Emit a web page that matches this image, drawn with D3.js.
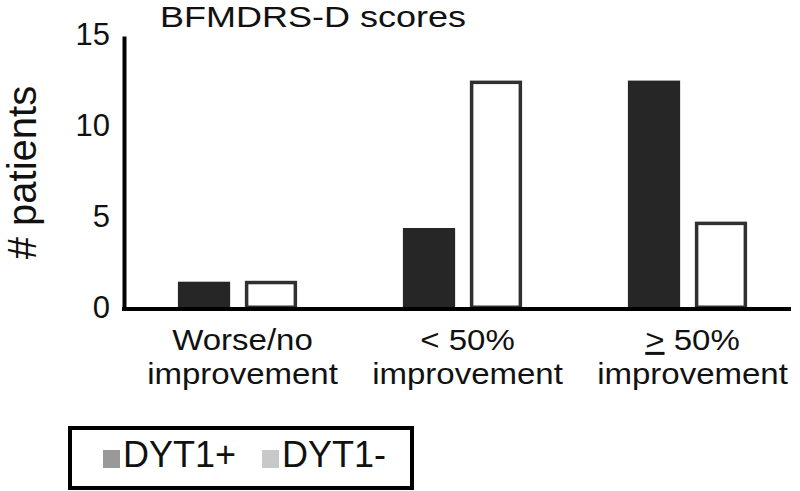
<!DOCTYPE html>
<html>
<head>
<meta charset="utf-8">
<script src="https://cdn.jsdelivr.net/npm/d3@7"></script>
<style>
  body { margin: 0; background: #fff; }
  text { font-family: "Liberation Sans", Arial, sans-serif; fill: #111; }
</style>
</head>
<body>
<script>
var categories = ["Worse/no improvement", "< 50% improvement", ">= 50% improvement"];
var labelLines = [["Worse/no", "improvement"], ["< 50%", "improvement"], [">= 50%", "improvement"]];
var seriesNames = ["DYT1+", "DYT1-"];
var dyt1Pos = [1.5, 4.45, 12.55];
var dyt1Neg = [1.55, 12.55, 4.8];
var yTicks = [0, 5, 10, 15];

function init(){
    var w = 800;
    var h = 491;
    var axisY = 309;
    var axisX = 124;
    var sw = 3.5;

    var svg = d3.select("body")
                .append("svg")
                .attr("width", w)
                .attr("height", h);

    var x0 = d3.scaleBand()
                .domain(categories)
                .range([125, 800])
                .padding(0);

    var x1 = d3.scaleBand()
                .domain(seriesNames)
                .range([0, x0.bandwidth()])
                .paddingInner(0.22)
                .paddingOuter(0.79);

    var yScale = d3.scaleLinear()
                .domain([0, 15])
                .range([axisY, 36]);

    var rows = categories.map(function(c, i) {
        return {cat: c, vals: [dyt1Pos[i], dyt1Neg[i]]};
    });

    // bars
    var groups = svg.selectAll("g.grp")
        .data(rows)
        .enter()
        .append("g")
        .attr("class", "grp")
        .attr("transform", function(d) {
            return "translate(" + x0(d.cat) + ",0)";
        });

    groups.append("rect")
        .attr("x", x1(seriesNames[0]))
        .attr("y", function(d) { return yScale(d.vals[0]); })
        .attr("width", x1.bandwidth())
        .attr("height", function(d) { return axisY - yScale(d.vals[0]); })
        .attr("fill", "#262626");

    groups.append("rect")
        .attr("x", x1(seriesNames[1]) + sw / 2)
        .attr("y", function(d) { return yScale(d.vals[1]) + sw / 2; })
        .attr("width", x1.bandwidth() - sw)
        .attr("height", function(d) { return axisY - yScale(d.vals[1]) - sw; })
        .attr("fill", "#fff")
        .attr("stroke", "#303030")
        .attr("stroke-width", sw);

    // y axis
    var yAxis = d3.axisLeft(yScale)
                .tickValues(yTicks)
                .tickSize(0)
                .tickSizeOuter(0)
                .tickPadding(14);

    var ya = svg.append("g")
        .attr("transform", "translate(" + axisX + ",0)")
        .call(yAxis);
    ya.select(".domain")
        .attr("stroke", "#000")
        .attr("stroke-width", 4);
    ya.selectAll("text")
        .attr("font-size", 31)
        .attr("font-family", "Liberation Sans, Arial, sans-serif")
        .attr("fill", "#111")
        .attr("dy", "0.26em");

    // x axis line
    svg.append("line")
        .attr("x1", axisX - 2)
        .attr("x2", 791)
        .attr("y1", axisY)
        .attr("y2", axisY)
        .attr("stroke", "#000")
        .attr("stroke-width", 4);

    // category labels, two lines each, glyphs slightly widened like the original
    var labels = svg.selectAll("g.cat")
        .data(labelLines)
        .enter()
        .append("g")
        .attr("class", "cat")
        .attr("transform", function(d, i) {
            return "translate(" + (x0(categories[i]) + x0.bandwidth() / 2 + 5) + ",350) scale(1.1,1)";
        });

    labels.each(function(d) {
        var g = d3.select(this);
        var first = g.append("text")
            .attr("text-anchor", "middle")
            .attr("font-size", 30)
            .attr("y", 0);
        if (d[0].indexOf(">=") === 0) {
            // underlined ">" stands for >=
            first.append("tspan")
                .attr("text-decoration", "underline")
                .text(">");
            first.append("tspan").text(d[0].slice(2));
        } else {
            first.text(d[0]);
        }
        g.append("text")
            .attr("text-anchor", "middle")
            .attr("font-size", 30)
            .attr("y", 34)
            .text(d[1]);
    });

    // title
    svg.append("text")
        .attr("transform", "translate(160,27) scale(1.2,1)")
        .attr("font-size", 30)
        .text("BFMDRS-D scores");

    // y label
    svg.append("text")
        .attr("transform", "translate(36," + yScale(7.5) + ") rotate(-90)")
        .attr("text-anchor", "middle")
        .attr("font-size", 40)
        .text("# patients");

    // legend
    var legend = svg.append("g");
    legend.append("rect")
        .attr("x", 70)
        .attr("y", 428)
        .attr("width", 342)
        .attr("height", 60)
        .attr("fill", "#fff")
        .attr("stroke", "#000")
        .attr("stroke-width", 4);

    var swatchColors = ["#999999", "#c8c8c8"];
    var legendX = [103, 262];
    var items = legend.selectAll("g.item")
        .data(seriesNames)
        .enter()
        .append("g")
        .attr("class", "item")
        .attr("transform", function(d, i) { return "translate(" + legendX[i] + ",0)"; });
    items.append("rect")
        .attr("x", 0)
        .attr("y", 450)
        .attr("width", 17)
        .attr("height", 18)
        .attr("fill", function(d, i) { return swatchColors[i]; });
    items.append("text")
        .attr("x", 20)
        .attr("y", 467)
        .attr("font-size", 36)
        .text(function(d) { return d; });
}

window.onload = init;
</script>
</body>
</html>
